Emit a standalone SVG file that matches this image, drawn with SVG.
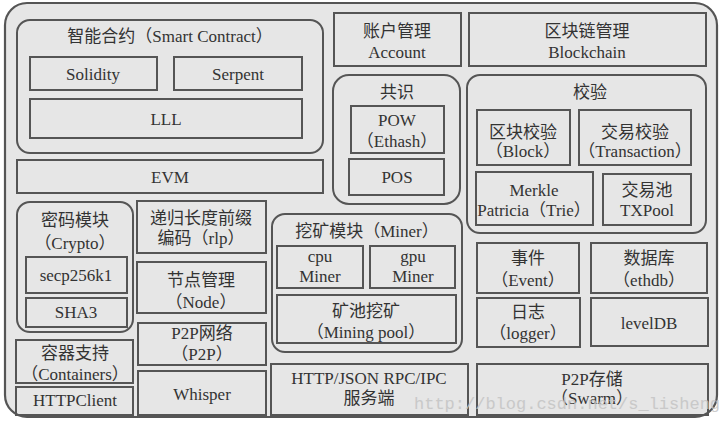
<svg xmlns="http://www.w3.org/2000/svg" width="723" height="426" viewBox="0 0 723 426">
<style>
.frame{fill:#e6e6e6;stroke:#555;stroke-width:2.2}
.grp{fill:none;stroke:#555;stroke-width:2}
.box{fill:none;stroke:#555;stroke-width:2}
text{font-family:"Liberation Serif","Noto Sans CJK SC",serif;font-size:17px;fill:#333;text-anchor:middle}
.wm{font-family:"Liberation Mono",monospace;font-size:17px;fill:#c4c4c4;text-anchor:start;opacity:0.85}
</style>
<rect width="723" height="426" fill="#ffffff"/>
<rect class="frame" x="5" y="3" width="712" height="414" rx="22"/>

<g id="smart-contract">
<rect class="grp" x="17" y="20" width="306" height="133" rx="13"/>
<text x="170" y="42">智能合约（Smart Contract）</text>
</g>
<g id="solidity"><rect class="box" x="30" y="57" width="127" height="33"/><text x="93" y="80">Solidity</text></g>
<g id="serpent"><rect class="box" x="174" y="57" width="128" height="33"/><text x="238" y="80">Serpent</text></g>
<g id="lll"><rect class="box" x="30" y="99" width="272" height="39"/><text x="166" y="125">LLL</text></g>

<g id="account"><rect class="box" x="334" y="13" width="127" height="53"/><text x="397" y="37">账户管理</text><text x="397" y="58">Account</text></g>
<g id="blockchain"><rect class="box" x="469" y="13" width="237" height="53"/><text x="587" y="37">区块链管理</text><text x="587" y="58">Blockchain</text></g>

<g id="consensus"><rect class="grp" x="333" y="75" width="127" height="129" rx="16"/><text x="397" y="98">共识</text></g>
<g id="pow"><rect class="box" x="351" y="106" width="93" height="47"/><text x="397" y="126">POW</text><text x="397" y="147">（Ethash）</text></g>
<g id="pos"><rect class="box" x="349" y="159" width="95" height="36"/><text x="397" y="183">POS</text></g>

<g id="verify"><rect class="grp" x="467" y="75" width="239" height="158" rx="13"/><text x="590" y="98">校验</text></g>
<g id="block-verify"><rect class="box" x="477" y="110" width="93" height="55"/><text x="523" y="138">区块校验</text><text x="523" y="157">（Block）</text></g>
<g id="tx-verify"><rect class="box" x="579" y="110" width="112" height="55"/><text x="635" y="138">交易校验</text><text x="635" y="157">（Transaction）</text></g>
<g id="merkle"><rect class="box" x="476" y="172" width="117" height="53"/><text x="534" y="196">Merkle</text><text x="534" y="216">Patricia（Trie）</text></g>
<g id="txpool"><rect class="box" x="603" y="174" width="88" height="51"/><text x="647" y="196">交易池</text><text x="647" y="216">TXPool</text></g>

<g id="evm"><rect class="box" x="17" y="160" width="306" height="33"/><text x="170" y="183">EVM</text></g>

<g id="crypto"><rect class="grp" x="17" y="202" width="116" height="130" rx="13"/><text x="75" y="226">密码模块</text><text x="75" y="249">（Crypto）</text></g>
<g id="secp256k1"><rect class="box" x="26" y="257" width="101" height="36"/><text x="76" y="281">secp256k1</text></g>
<g id="sha3"><rect class="box" x="26" y="298" width="101" height="29"/><text x="76" y="318">SHA3</text></g>

<g id="rlp"><rect class="box" x="137" y="201" width="129" height="52"/><text x="201" y="224">递归长度前缀</text><text x="201" y="244">编码（rlp）</text></g>
<g id="node"><rect class="box" x="137" y="262" width="129" height="51"/><text x="201" y="286">节点管理</text><text x="201" y="308">（Node）</text></g>
<g id="p2p"><rect class="box" x="138" y="323" width="128" height="42"/><text x="202" y="339">P2P网络</text><text x="202" y="360">（P2P）</text></g>
<g id="whisper"><rect class="box" x="138" y="371" width="128" height="44"/><text x="202" y="400">Whisper</text></g>
<g id="containers"><rect class="box" x="16" y="340" width="117" height="43"/><text x="75" y="359">容器支持</text><text x="75" y="380">（Containers）</text></g>
<g id="httpclient"><rect class="box" x="16" y="387" width="117" height="28"/><text x="75" y="406">HTTPClient</text></g>

<g id="miner"><rect class="grp" x="272" y="214" width="190" height="138" rx="13"/><text x="367" y="237">挖矿模块（Miner）</text></g>
<g id="cpu-miner"><rect class="box" x="277" y="246" width="86" height="42"/><text x="320" y="262">cpu</text><text x="320" y="282">Miner</text></g>
<g id="gpu-miner"><rect class="box" x="370" y="246" width="85" height="42"/><text x="413" y="262">gpu</text><text x="413" y="282">Miner</text></g>
<g id="mining-pool"><rect class="box" x="277" y="295" width="179" height="48"/><text x="366" y="317">矿池挖矿</text><text x="366" y="338">（Mining pool）</text></g>
<g id="rpc"><rect class="box" x="271" y="364" width="197" height="51"/><text x="369" y="384">HTTP/JSON RPC/IPC</text><text x="369" y="404">服务端</text></g>

<g id="event"><rect class="box" x="477" y="243" width="102" height="50"/><text x="528" y="264">事件</text><text x="528" y="286">（Event）</text></g>
<g id="ethdb"><rect class="box" x="591" y="243" width="116" height="50"/><text x="649" y="264">数据库</text><text x="649" y="286">（ethdb）</text></g>
<g id="logger"><rect class="box" x="477" y="298" width="103" height="49"/><text x="528" y="318">日志</text><text x="528" y="339">（logger）</text></g>
<g id="leveldb"><rect class="box" x="591" y="298" width="117" height="48"/><text x="649" y="329">levelDB</text></g>
<g id="swarm"><rect class="box" x="477" y="364" width="231" height="51"/><text x="592" y="385">P2P存储</text><text x="592" y="404">（Swarm）</text></g>

<g id="connectors"></g>
<text class="wm" x="414" y="409">http://blog.csdn.net/s_lisheng</text>
</svg>
